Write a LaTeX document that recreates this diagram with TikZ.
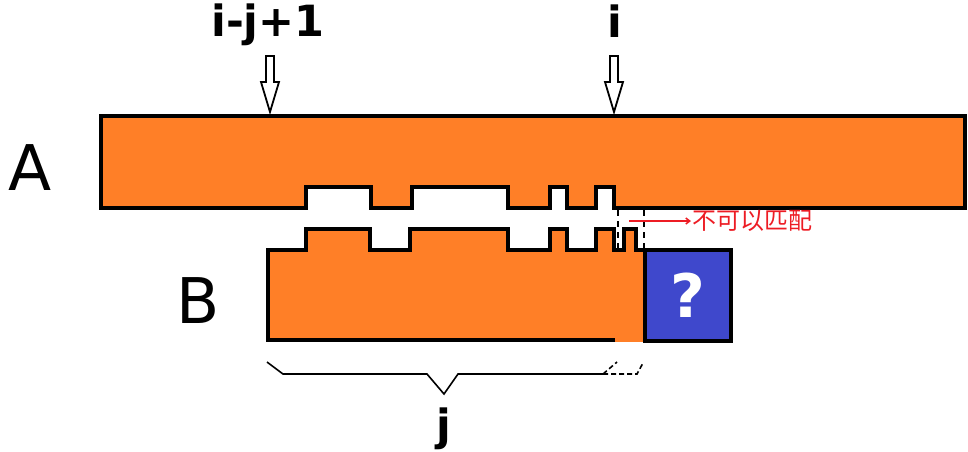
\documentclass[tikz,border=0pt]{standalone}
\usepackage{fontspec}
\setmainfont{DejaVu Sans}
\newfontfamily\cjk{Noto Sans CJK SC}
\usetikzlibrary{arrows.meta}
\definecolor{strorange}{HTML}{FF7F27}
\definecolor{qblue}{HTML}{3F48CC}
\definecolor{mismatch}{HTML}{ED1C24}
\tikzset{
  strip/.style={fill=strorange, draw=black, line width=3.6pt, line join=miter},
  hollowarrow/.style={fill=white, draw=black, line width=1.8pt},
  brace/.style={draw=black, line width=1.6pt},
  bigletter/.style={anchor=base, font=\fontsize{63}{63}\selectfont},
  idxlabel/.style={anchor=base, font=\fontsize{43}{43}\selectfont\bfseries}
}
\begin{document}
\begin{tikzpicture}[x=1pt,y=-1pt]
\useasboundingbox (0,0) rectangle (968,451);
% string A
\path[strip] (101,116) -- (965,116) -- (965,208) -- (614,208) -- (614,187) -- (596,187) -- (596,208) -- (567,208) -- (567,187) -- (550,187) -- (550,208) -- (508,208) -- (508,187) -- (412,187) -- (412,208) -- (371,208) -- (371,187) -- (306,187) -- (306,208) -- (101,208) -- cycle;
% string B
\fill[strorange] (268,250) rectangle (645,342);
\fill[strorange] (306,229) rectangle (370,252) (410,229) rectangle (508,252) (550,229) rectangle (567,252) (596,229) rectangle (614,252) (624,229) rectangle (636,252);
\draw[line width=3.6pt, line join=miter] (615,340) -- (268,340) -- (268,250) -- (306,250) -- (306,229) -- (370,229) -- (370,250) -- (410,250) -- (410,229) -- (508,229) -- (508,250) -- (550,250) -- (550,229) -- (567,229) -- (567,250) -- (596,250) -- (596,229) -- (614,229) -- (614,250) -- (624,250) -- (624,229) -- (636,229) -- (636,250) -- (645,250);
\draw[line width=2.2pt, dash pattern=on 6pt off 5pt] (618,210) -- (618,250) (644,210) -- (644,250);
% unknown character
\node[draw=black, line width=4pt, fill=qblue, minimum width=86pt, minimum height=91pt, inner sep=0pt] (qbox) at (688,295.5) {};
\node[anchor=base, text=white, font=\fontsize{60}{60}\selectfont\bfseries] (qmark) at (688,317) {?};
% labels
\node[bigletter] (labelA) at (30,190) {A};
\node[bigletter] (labelB) at (198,323) {B};
\node[idxlabel] (start) at (268,36) {i-j+1};
\node[idxlabel] (end) at (615,37) {i};
\node[idxlabel] (len) at (444,440) {j};
% hollow arrows
\path[hollowarrow] (266,56) -- (274,56) -- (274,82) -- (279,82) -- (270,112) -- (261,82) -- (266,82) -- cycle;
\path[hollowarrow] (610,56) -- (618,56) -- (618,82) -- (623,82) -- (614,112) -- (605,82) -- (610,82) -- cycle;
% mismatch note
\coordinate (nomatch) at (629,221);
\node[anchor=west, inner sep=1pt, text=mismatch, font=\cjk\fontsize{24}{24}\selectfont] (nomatchlabel) at (691,221) {不可以匹配};
\draw[mismatch, line width=1.5pt, -{Straight Barb[length=4pt,width=6pt]}] (nomatch) -- (nomatchlabel.west);
% brace for j
\draw[brace] (267,362) -- (283,374) -- (427,374) -- (444,394) -- (458,374) -- (603,374);
\draw[brace, dash pattern=on 5pt off 3pt] (603,374) -- (617,362) (603,374) -- (637,374) -- (643,363);
\end{tikzpicture}
\end{document}
